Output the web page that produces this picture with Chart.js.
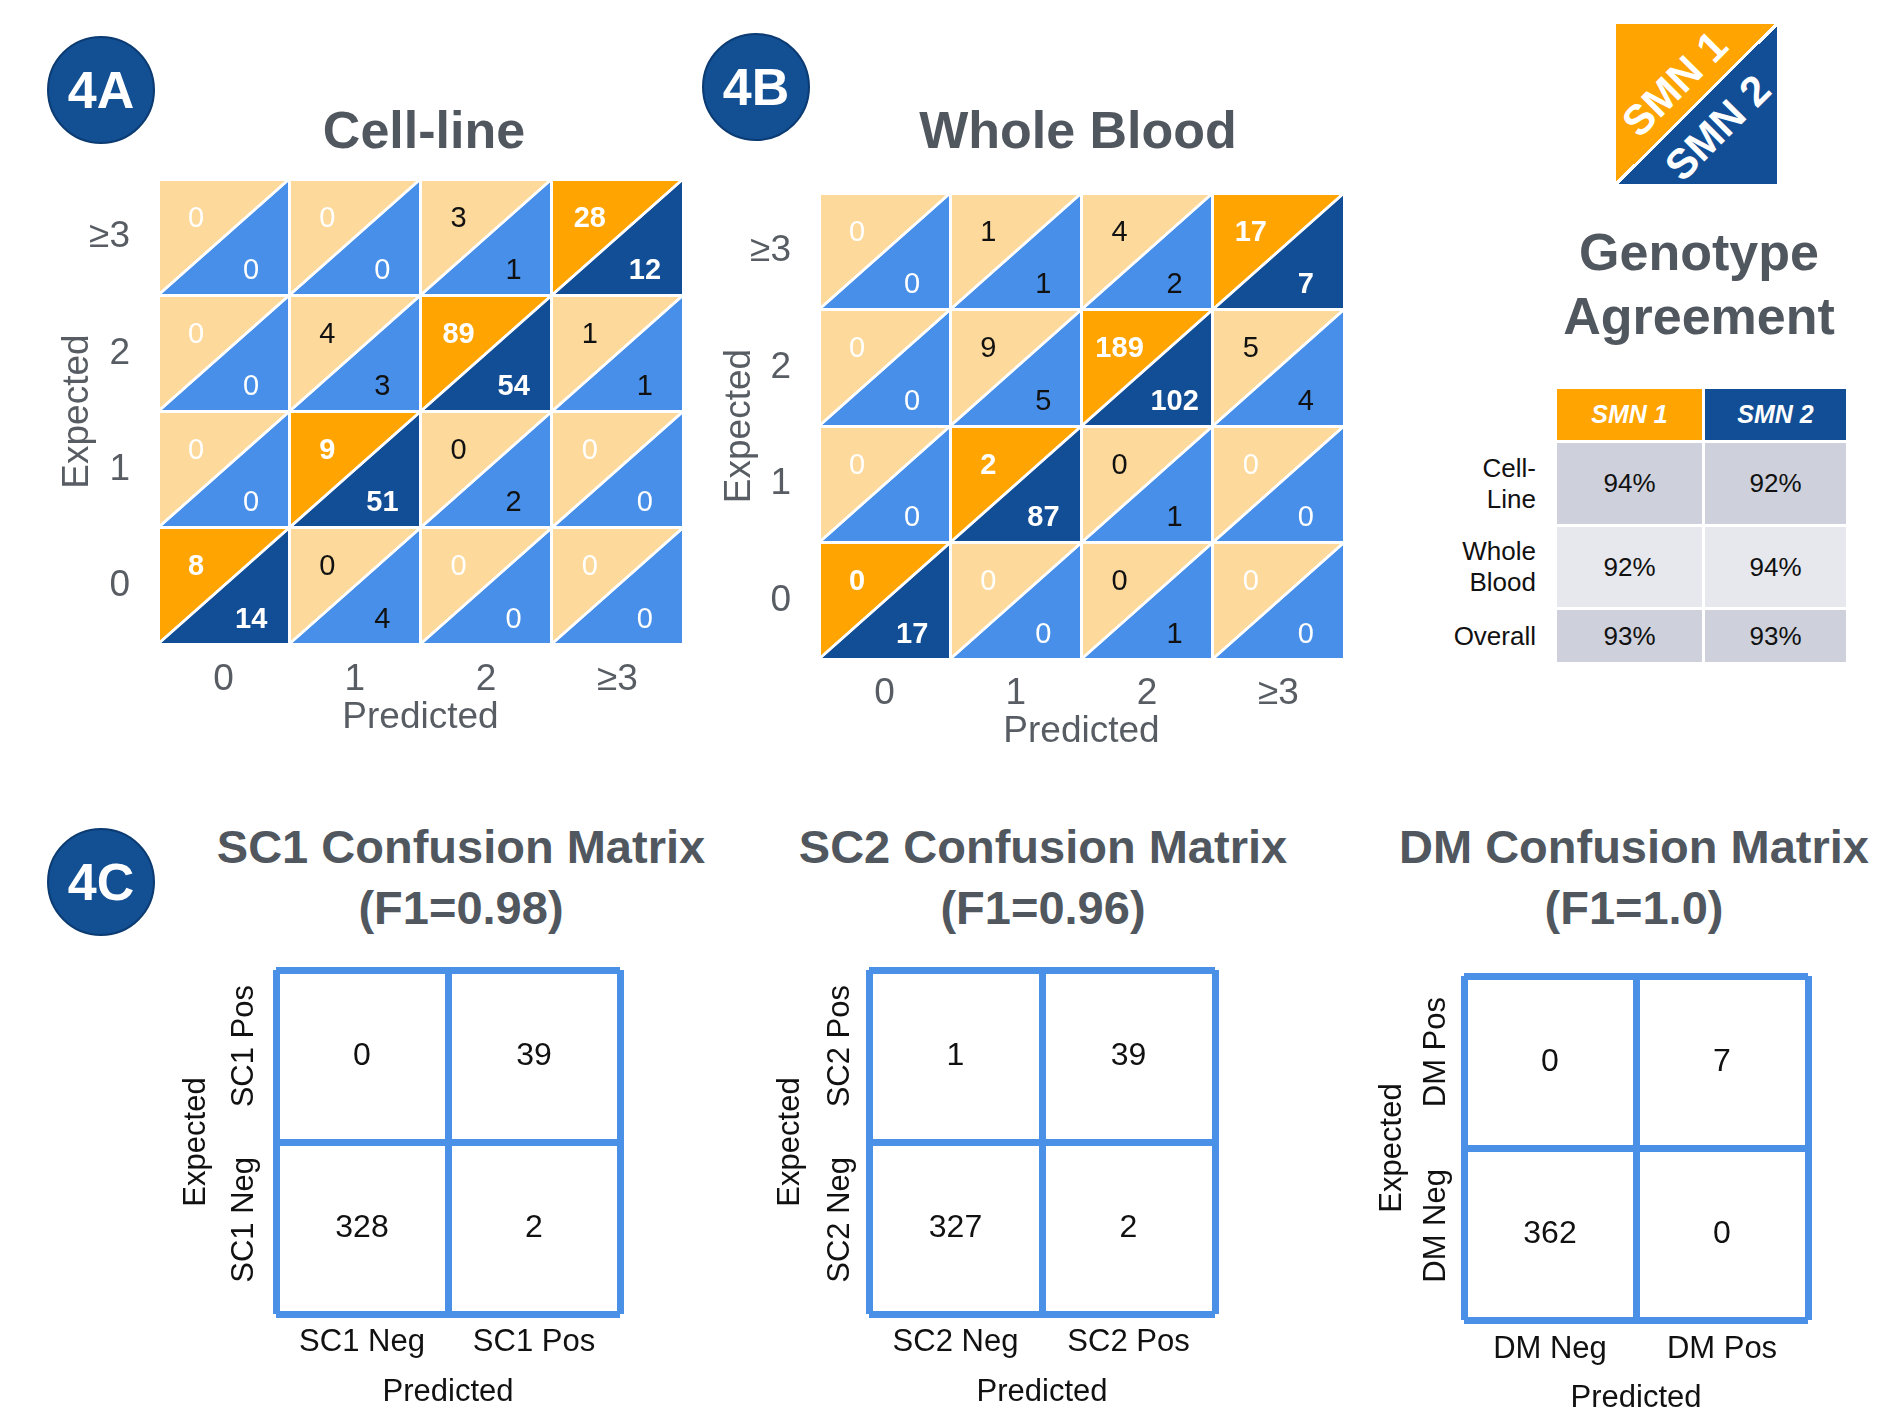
<!DOCTYPE html>
<html>
<head>
<meta charset="utf-8">
<title>SMN copy number agreement</title>
<script src="https://cdn.jsdelivr.net/npm/chart.js"></script>
<style>
  html, body { margin: 0; padding: 0; background: #fff; }
  body { position: relative; width: 1881px; height: 1412px; overflow: hidden; font-family: "Liberation Sans", Arial, sans-serif; }
  canvas { position: absolute; }
  .badge { position: absolute; width: 104px; height: 104px; border-radius: 50%; background: #124f93; border: 2px solid #0b3b72;
           color: #fff; font-weight: bold; font-size: 52px; display: flex; align-items: center; justify-content: center; }
  .title { position: absolute; width: 700px; text-align: center; font-weight: bold; font-size: 52px; line-height: 52px; color: #51575e; white-space: nowrap; }
  .ctitle { font-size: 47px; line-height: 61px; }
  .key { position: absolute; left: 1616px; top: 24px; width: 161px; height: 160px; overflow: hidden;
         background: linear-gradient(to bottom right, #ffa400 calc(50% - 1.5px), #fff calc(50% - 1.5px), #fff calc(50% + 1.5px), #114e96 calc(50% + 1.5px)); }
  .key span { position: absolute; width: 160px; margin-left: -80px; height: 42px; margin-top: -21px; line-height: 42px; text-align: center;
              color: #fff; font-weight: bold; font-size: 42px; transform: rotate(-45deg); white-space: nowrap; }
  .cell { position: absolute; display: flex; align-items: center; justify-content: center; font-size: 26px; color: #111; }
  .head { color: #fff; font-weight: bold; font-style: italic; font-size: 25px; }
  .rowlab { position: absolute; width: 200px; text-align: right; font-size: 26px; line-height: 31px; color: #111; white-space: pre; }
</style>
</head>
<body>
<div class="badge" style="left:47px;top:36px">4A</div>
<div class="badge" style="left:702px;top:33px">4B</div>
<div class="badge" style="left:47px;top:828px">4C</div>

<div class="title" style="left:74px;top:104px">Cell-line</div>
<div class="title" style="left:728px;top:104px">Whole Blood</div>
<div class="title" style="left:1349px;top:226px">Genotype</div>
<div class="title" style="left:1349px;top:290px">Agreement</div>

<div class="title ctitle" style="left:111px;top:816px">SC1 Confusion Matrix<br>(F1=0.98)</div>
<div class="title ctitle" style="left:693px;top:816px">SC2 Confusion Matrix<br>(F1=0.96)</div>
<div class="title ctitle" style="left:1284px;top:816px">DM Confusion Matrix<br>(F1=1.0)</div>

<div class="key"><span style="left:59px;top:60px">SMN 1</span><span style="left:102px;top:104px">SMN 2</span></div>
<div id="agreement"></div>

<canvas id="cellLine"></canvas>
<canvas id="wholeBlood"></canvas>
<canvas id="sc1"></canvas>
<canvas id="sc2"></canvas>
<canvas id="dm"></canvas>

<script>
// ---- data ----
const countLabels = ["0", "1", "2", "≥3"]

// rows = expected copy number from the bottom (0, 1, 2, ≥3), columns = predicted
const cellLineSmn1 = [
  [8, 0, 0, 0],
  [0, 9, 0, 0],
  [0, 4, 89, 1],
  [0, 0, 3, 28]
]
const cellLineSmn2 = [
  [14, 4, 0, 0],
  [0, 51, 2, 0],
  [0, 3, 54, 1],
  [0, 0, 1, 12]
]
const wholeBloodSmn1 = [
  [0, 0, 0, 0],
  [0, 2, 0, 0],
  [0, 9, 189, 5],
  [0, 1, 4, 17]
]
const wholeBloodSmn2 = [
  [17, 0, 1, 0],
  [0, 87, 1, 0],
  [0, 5, 102, 4],
  [0, 1, 2, 7]
]

const agreementRows = ["Cell-\nLine", "Whole\nBlood", "Overall"]
const smn1Agreement = [94, 92, 93]
const smn2Agreement = [92, 94, 93]

// rows = expected Neg (bottom), Pos (top); columns = predicted Neg, Pos
const sc1Labels = ["SC1 Neg", "SC1 Pos"]
const sc1Matrix = [[328, 2], [0, 39]]
const sc2Labels = ["SC2 Neg", "SC2 Pos"]
const sc2Matrix = [[327, 2], [1, 39]]
const dmLabels = ["DM Neg", "DM Pos"]
const dmMatrix = [[362, 0], [0, 7]]

// ---- styles ----
const FONT = '"Liberation Sans", Arial, sans-serif'
const LIGHT_ORANGE = "#fdd99b"
const DARK_ORANGE = "#ffa400"
const LIGHT_BLUE = "#478fe8"
const DARK_BLUE = "#114e96"
const MATRIX_BLUE = "#4a90e6"
const GREY_TEXT = "#585d64"

Chart.defaults.font.family = FONT

// draws the numbers of any dataset carrying a `texts` array at its points
const cellText = {
  id: "cellText",
  afterDatasetsDraw(chart) {
    const ctx = chart.ctx
    chart.data.datasets.forEach((ds, i) => {
      if (!ds.texts) return
      chart.getDatasetMeta(i).data.forEach((pt, j) => {
        ctx.save()
        ctx.font = `${ds.textBold && ds.textBold[j] ? "bold " : ""}${ds.textSize}px ${FONT}`
        ctx.fillStyle = ds.textColors ? ds.textColors[j] : "#111"
        ctx.textAlign = "center"
        ctx.textBaseline = "middle"
        ctx.fillText(String(ds.texts[j]), pt.x, pt.y)
        ctx.restore()
      })
    })
  }
}

function textWidth(text, size) {
  const c = document.createElement("canvas").getContext("2d")
  c.font = `${size}px ${FONT}`
  return c.measureText(text).width
}

// Put the canvas at `frame` and return the padding / axis sizes that pin the plot area to `area`
function frameCanvas(id, frame, area) {
  const cv = document.getElementById(id)
  cv.width = frame.right - frame.left
  cv.height = frame.bottom - frame.top
  cv.style.left = frame.left + "px"
  cv.style.top = frame.top + "px"
  return {
    canvas: cv,
    padding: { left: 0, top: area.top - frame.top, right: frame.right - area.right, bottom: 0 },
    yWidth: area.left - frame.left,
    xHeight: frame.bottom - area.bottom
  }
}

// fixed axis size; the label overhang padding is dropped so the layout padding alone places the plot
function fixSize(prop, value) {
  return s => {
    s[prop] = value
    s.paddingTop = s.paddingBottom = s.paddingLeft = s.paddingRight = 0
  }
}

function baseOptions(fit) {
  return {
    responsive: false,
    animation: false,
    events: [],
    layout: { padding: fit.padding },
    plugins: {
      legend: { display: false },
      tooltip: { enabled: false },
      filler: { drawTime: "beforeDatasetsDraw" }
    }
  }
}

function copyNumberChart(id, smn1, smn2, frame, area, pos) {
  const fit = frameCanvas(id, frame, area)
  const cellW = (area.right - area.left) / 4
  const cellH = (area.bottom - area.top) / 4
  const tickSize = 37
  const lh = tickSize * 1.2

  const datasets = []
  const points = [], texts = [], colors = [], bold = []
  smn1.forEach((row, r) => row.forEach((v1, c) => {
    const v2 = smn2[r][c]
    const diag = r === c
    const diagonal = [{ x: c, y: r }, { x: c + 1, y: r + 1 }]
    // SMN1 fills the upper-left half of the cell, SMN2 the lower-right half
    datasets.push({ data: diagonal, fill: { value: r + 1 }, backgroundColor: diag ? DARK_ORANGE : LIGHT_ORANGE,
                    borderColor: "#fff", borderWidth: 2.5, pointRadius: 0 })
    datasets.push({ data: diagonal, fill: { value: r }, backgroundColor: diag ? DARK_BLUE : LIGHT_BLUE,
                    borderColor: "#fff", borderWidth: 2.5, pointRadius: 0 })
    const color = diag || (v1 === 0 && v2 === 0) ? "#fff" : "#111"
    points.push({ x: c + 0.29, y: r + 0.66 }, { x: c + 0.71, y: r + 0.21 })
    texts.push(v1, v2)
    colors.push(color, color)
    bold.push(diag, diag)
  }))
  datasets.push({ data: points, texts, textColors: colors, textBold: bold, textSize: 29,
                  showLine: false, pointRadius: 0, fill: false, borderWidth: 0 })

  const options = baseOptions(fit)
  options.scales = {
    x: {
      type: "linear", min: 0, max: 4,
      ticks: { stepSize: 1, autoSkip: false, maxRotation: 0, callback: v => countLabels[v] ?? "",
               labelOffset: cellW / 2, padding: pos.xTickY - area.bottom - lh / 2, color: GREY_TEXT, font: { size: tickSize } },
      grid: { color: "#fff", lineWidth: 3, z: 1, drawTicks: false },
      border: { display: false },
      title: { display: true, text: "Predicted", color: GREY_TEXT, font: { size: tickSize },
               padding: { top: 0, bottom: frame.bottom - pos.xTitleY - lh / 2 } },
      afterFit: fixSize("height", fit.xHeight)
    },
    y: {
      type: "linear", min: 0, max: 4,
      ticks: { stepSize: 1, autoSkip: false, callback: v => countLabels[v] ?? "",
               labelOffset: -cellH / 2, padding: area.left - pos.yTickRight, color: GREY_TEXT, font: { size: tickSize } },
      grid: { color: "#fff", lineWidth: 3, z: 1, drawTicks: false },
      border: { display: false },
      title: { display: true, text: "Expected", color: GREY_TEXT, font: { size: tickSize },
               padding: { top: pos.yTitleX - frame.left - lh / 2, bottom: 0 } },
      afterFit: fixSize("width", fit.yWidth)
    }
  }
  return new Chart(fit.canvas, { type: "line", data: { datasets }, options, plugins: [cellText] })
}

function confusionChart(id, labels, matrix, frame, area, pos) {
  const fit = frameCanvas(id, frame, area)
  const cellW = (area.right - area.left) / 2
  const cellH = (area.bottom - area.top) / 2
  const size = 31
  const lh = size * 1.2
  const labelW = (textWidth(labels[0], size) + textWidth(labels[1], size)) / 2

  const points = [], texts = []
  matrix.forEach((row, r) => row.forEach((v, c) => {
    points.push({ x: c + 0.5, y: r + 0.5 })
    texts.push(v)
  }))
  const datasets = [{ data: points, texts, textSize: 32, showLine: false, pointRadius: 0, fill: false, borderWidth: 0 }]

  const grid = { color: MATRIX_BLUE, lineWidth: 7, z: 1, drawTicks: false }
  const options = baseOptions(fit)
  options.scales = {
    x: {
      type: "linear", min: 0, max: 2,
      ticks: { stepSize: 1, autoSkip: false, maxRotation: 0, callback: v => labels[v] ?? "",
               labelOffset: cellW / 2, padding: pos.xTickY - area.bottom - lh / 2, color: "#111", font: { size } },
      grid, border: { display: false },
      title: { display: true, text: "Predicted", color: "#111", font: { size },
               padding: { top: 0, bottom: frame.bottom - pos.xTitleY - lh / 2 } },
      afterFit: fixSize("height", fit.xHeight)
    },
    y: {
      type: "linear", min: 0, max: 2,
      // rotated labels hang below their anchor, so lift them by half their length (and a little more, as drawn)
      ticks: { stepSize: 1, autoSkip: false, minRotation: 90, maxRotation: 90, callback: v => labels[v] ?? "",
               labelOffset: -cellH / 2 - labelW / 2 - 9, padding: area.left - pos.yTickX, color: "#111", font: { size } },
      grid, border: { display: false },
      title: { display: true, text: "Expected", color: "#111", font: { size },
               padding: { top: pos.yTitleX - frame.left - lh / 2, bottom: 0 } },
      afterFit: fixSize("width", fit.yWidth)
    }
  }
  return new Chart(fit.canvas, { type: "line", data: { datasets }, options, plugins: [cellText] })
}

copyNumberChart("cellLine", cellLineSmn1, cellLineSmn2,
  { left: 38, top: 169, right: 700, bottom: 760 }, { left: 158, top: 179, right: 683, bottom: 644 },
  { xTickY: 680, xTitleY: 718, yTickRight: 130, yTitleX: 78 })
copyNumberChart("wholeBlood", wholeBloodSmn1, wholeBloodSmn2,
  { left: 699, top: 183, right: 1360, bottom: 773 }, { left: 819, top: 193, right: 1344, bottom: 659 },
  { xTickY: 694, xTitleY: 732, yTickRight: 791, yTitleX: 740 })

confusionChart("sc1", sc1Labels, sc1Matrix,
  { left: 160, top: 960, right: 640, bottom: 1420 }, { left: 276, top: 970, right: 620, bottom: 1314 },
  { xTickY: 1342, xTitleY: 1392, yTickX: 244, yTitleX: 196 })
confusionChart("sc2", sc2Labels, sc2Matrix,
  { left: 753, top: 960, right: 1235, bottom: 1420 }, { left: 869, top: 970, right: 1215, bottom: 1314 },
  { xTickY: 1342, xTitleY: 1392, yTickX: 840, yTitleX: 790 })
confusionChart("dm", dmLabels, dmMatrix,
  { left: 1348, top: 966, right: 1828, bottom: 1420 }, { left: 1464, top: 976, right: 1808, bottom: 1320 },
  { xTickY: 1349, xTitleY: 1398, yTickX: 1436, yTitleX: 1392 })

// ---- agreement table ----
const table = document.getElementById("agreement")
const columns = [
  { left: 1557, width: 145, head: "SMN 1", bg: DARK_ORANGE, values: smn1Agreement },
  { left: 1705, width: 141, head: "SMN 2", bg: DARK_BLUE, values: smn2Agreement }
]
const header = { top: 389, height: 51 }
const rowBoxes = [{ top: 443, height: 81 }, { top: 527, height: 80 }, { top: 610, height: 52 }]
const rowFills = ["#ced1dc", "#e7e8ed", "#ced1dc"]

function addDiv(cls, css, text) {
  const d = document.createElement("div")
  d.className = cls
  Object.assign(d.style, css)
  d.textContent = text
  table.appendChild(d)
  return d
}

columns.forEach(col => {
  addDiv("cell head", { left: col.left + "px", top: header.top + "px", width: col.width + "px", height: header.height + "px", background: col.bg }, col.head)
  col.values.forEach((v, i) => {
    const b = rowBoxes[i]
    addDiv("cell", { left: col.left + "px", top: b.top + "px", width: col.width + "px", height: b.height + "px", background: rowFills[i] }, v + "%")
  })
})
agreementRows.forEach((label, i) => {
  const b = rowBoxes[i]
  const lines = label.split("\n").length
  addDiv("rowlab", { left: "1336px", top: (b.top + b.height / 2 - lines * 31 / 2) + "px" }, label)
})
</script>
</body>
</html>
